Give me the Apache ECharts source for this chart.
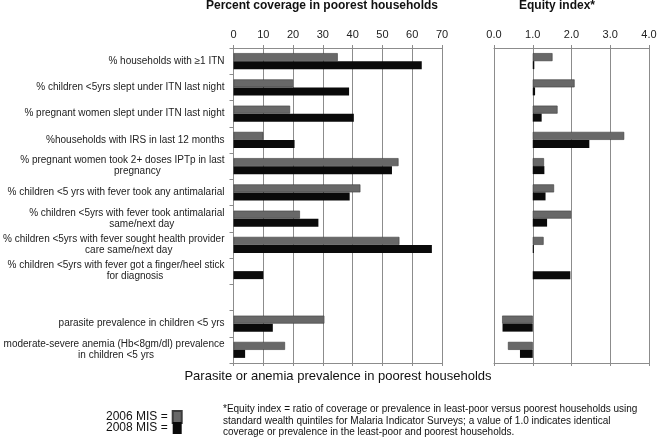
<!DOCTYPE html>
<html>
<head>
<meta charset="utf-8">
<script src="https://cdn.jsdelivr.net/npm/echarts@6/dist/echarts.min.js"></script>
<style>html,body{margin:0;padding:0;background:#fff}#c{width:672px;height:441px}</style>
</head>
<body>
<div id="c"></div>
<script>
// ---- data ----
var categories = [
  '% households with \u22651 ITN',
  '% children <5yrs slept under ITN last night',
  '% pregnant women slept under ITN last night',
  '%households with IRS in last 12 months',
  '% pregnant women took 2+ doses IPTp in last\npregnancy',
  '% children <5 yrs with fever took any antimalarial',
  '% children <5yrs with fever took antimalarial\nsame/next day',
  '% children <5yrs with fever sought health provider\ncare same/next day',
  '% children <5yrs with fever got a finger/heel stick\nfor diagnosis',
  '',
  'parasite prevalence in children <5 yrs',
  'moderate-severe anemia (Hb<8gm/dl) prevalence\nin children <5 yrs'
];
var coverage2006 = [35, 20, 19, 10, 55.4, 42.6, 22.3, 55.7, null, null, 30.5, 17.3];
var coverage2008 = [63.2, 38.8, 40.4, 20.5, 53.2, 39, 28.5, 66.6, 10, null, 13.2, 3.9];
var equity2006 = [1.51, 2.08, 1.64, 3.36, 1.29, 1.55, 1.99, 1.28, null, null, 0.21, 0.36];
var equity2008 = [1.04, 1.06, 1.23, 2.46, 1.30, 1.33, 1.37, 1.03, 1.97, null, 0.22, 0.67];
var coverageTicks = [0, 70, 10];
var equityTicks = [0, 4, 1];
var seriesNames = ['2006 MIS', '2008 MIS'];
var equityBaseline = 1.0;

// ---- layout / style ----
var FONT = 'Liberation Sans, Arial, sans-serif';
var GRAY = '#686868', GRAY_B = '#3c3c3c', BLACK = '#0a0a0a';
var GRID_C = '#8c8c8c';
var secondLinePad = [0,0,0,0,30,0,30,30,38,0,0,4];

function helper(arr){ return arr.map(function(v){ return v == null ? null : Math.min(v, equityBaseline); }); }
function delta(arr){ return arr.map(function(v){ return v == null ? null : Math.abs(v - equityBaseline); }); }

var chart = echarts.init(document.getElementById('c'), null, {renderer: 'canvas'});

function valueAxis(grid, pos, ticks, showLabels, dec){
  return {
    type: 'value', gridIndex: grid, position: pos,
    min: ticks[0], max: ticks[1], interval: ticks[2],
    axisLine: {show: true, lineStyle: {color: GRID_C, width: 1}},
    axisTick: {show: true, length: 3, lineStyle: {color: GRID_C}},
    splitLine: {show: pos === 'top', lineStyle: {color: GRID_C, width: 1}},
    axisLabel: {show: showLabels, fontFamily: FONT, fontSize: 11, color: '#222', margin: 8,
      formatter: function(v){ return dec ? v.toFixed(1) : String(v); }}
  };
}

var rich = {c: {align: 'center', fontFamily: FONT, fontSize: 10, lineHeight: 11, color: '#222'}};
secondLinePad.forEach(function(p, i){
  rich['p' + i] = {align: 'center', fontFamily: FONT, fontSize: 10, lineHeight: 11, color: '#222', padding: [0,0,0,p]};
});

var barBase = {type: 'bar', barWidth: 8, barGap: '0%'};

function legendFor(name, top){
  return {
    data: [name], orient: 'vertical', left: 106, top: top, padding: 0,
    itemWidth: 9, itemHeight: 12, itemGap: 0, align: 'right',
    icon: 'rect', selectedMode: false,
    formatter: function(n){ return n + ' ='; },
    textStyle: {fontFamily: FONT, fontSize: 12, color: '#111', lineHeight: 12}
  };
}

var option = {
  animation: false,
  backgroundColor: '#fff',
  grid: [
    {left: 228, top: 48, width: 214, height: 315, containLabel: false},
    {left: 494, top: 48, width: 155, height: 315, containLabel: false}
  ],
  xAxis: [
    valueAxis(0, 'top', coverageTicks, true, false),
    valueAxis(0, 'bottom', coverageTicks, false, false),
    valueAxis(1, 'top', equityTicks, true, true),
    valueAxis(1, 'bottom', equityTicks, false, true)
  ],
  yAxis: [
    {type: 'category', gridIndex: 0, inverse: true, data: categories,
     axisLine: {show: true, lineStyle: {color: GRID_C}},
     axisTick: {show: true, length: 4, lineStyle: {color: GRID_C}},
     axisLabel: {margin: 9, formatter: function(v, idx){
        var lines = v.split('\n');
        return lines.map(function(l, k){ return k === 0 ? '{c|' + l + '}' : '{p' + idx + '|' + l + '}'; }).join('\n');
      }, rich: rich}},
    {type: 'category', gridIndex: 1, inverse: true, data: categories,
     axisLine: {show: false}, axisTick: {show: false}, axisLabel: {show: false}}
  ],
  legend: [legendFor(seriesNames[0], 410), legendFor(seriesNames[1], 422)],
  series: [
    Object.assign({}, barBase, {name: seriesNames[0], xAxisIndex: 0, yAxisIndex: 0, data: coverage2006,
      itemStyle: {color: GRAY, borderColor: GRAY_B, borderWidth: 0.6}}),
    Object.assign({}, barBase, {name: seriesNames[1], xAxisIndex: 0, yAxisIndex: 0, data: coverage2008,
      itemStyle: {color: BLACK}}),
    Object.assign({}, barBase, {name: 'base06', xAxisIndex: 2, yAxisIndex: 1, stack: 'e06', data: helper(equity2006),
      itemStyle: {color: 'rgba(0,0,0,0)'}, silent: true}),
    Object.assign({}, barBase, {name: seriesNames[0], xAxisIndex: 2, yAxisIndex: 1, stack: 'e06', data: delta(equity2006),
      itemStyle: {color: GRAY, borderColor: GRAY_B, borderWidth: 0.6}}),
    Object.assign({}, barBase, {name: 'base08', xAxisIndex: 2, yAxisIndex: 1, stack: 'e08', data: helper(equity2008),
      itemStyle: {color: 'rgba(0,0,0,0)'}, silent: true}),
    Object.assign({}, barBase, {name: seriesNames[1], xAxisIndex: 2, yAxisIndex: 1, stack: 'e08', data: delta(equity2008),
      itemStyle: {color: BLACK}})
  ],
  graphic: [
    {type: 'text', x: 322, y: 6, style: {text: 'Percent coverage in poorest households', fontFamily: FONT, fontSize: 12, fontWeight: 'bold', fill: '#111', align: 'center', verticalAlign: 'middle'}},
    {type: 'text', x: 557, y: 6, style: {text: 'Equity index*', fontFamily: FONT, fontSize: 12, fontWeight: 'bold', fill: '#111', align: 'center', verticalAlign: 'middle'}},
    {type: 'text', x: 338, y: 376, style: {text: 'Parasite or anemia prevalence in poorest households', fontFamily: FONT, fontSize: 13, fill: '#111', align: 'center', verticalAlign: 'middle'}},
    {type: 'text', x: 223, y: 404, style: {text: '*Equity index = ratio of coverage or prevalence in least-poor versus poorest households using\nstandard wealth quintiles for Malaria Indicator Surveys; a value of 1.0 indicates identical\ncoverage or prevalence in the least-poor and poorest households.', fontFamily: FONT, fontSize: 10, lineHeight: 11.3, fill: '#111', align: 'left', verticalAlign: 'top'}}
  ]
};
chart.setOption(option);
</script>
</body>
</html>
